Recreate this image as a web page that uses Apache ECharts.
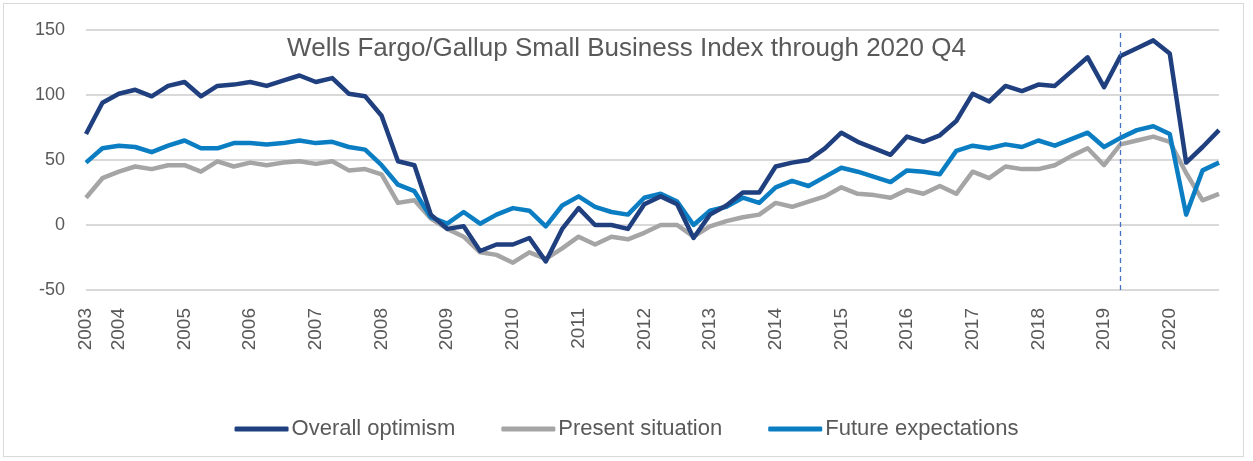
<!DOCTYPE html>
<html>
<head>
<meta charset="utf-8">
<script src="https://cdn.jsdelivr.net/npm/echarts@6/dist/echarts.min.js"></script>
<style>
html,body{margin:0;padding:0;background:#fff;}
#frame{position:absolute;left:3px;top:3px;width:1241px;height:454px;border:1px solid #d9d9d9;box-sizing:border-box;}
#chart{position:absolute;left:0;top:0;width:1253px;height:461px;}
</style>
</head>
<body>
<div id="frame"></div>
<div id="chart"></div>
<script>
const quarters = [
 "2003 Q3","2003 Q4",
 "2004 Q1","2004 Q2","2004 Q3","2004 Q4",
 "2005 Q1","2005 Q2","2005 Q3","2005 Q4",
 "2006 Q1","2006 Q2","2006 Q3","2006 Q4",
 "2007 Q1","2007 Q2","2007 Q3","2007 Q4",
 "2008 Q1","2008 Q2","2008 Q3","2008 Q4",
 "2009 Q1","2009 Q2","2009 Q3","2009 Q4",
 "2010 Q1","2010 Q2","2010 Q3","2010 Q4",
 "2011 Q1","2011 Q2","2011 Q3","2011 Q4",
 "2012 Q1","2012 Q2","2012 Q3","2012 Q4",
 "2013 Q1","2013 Q2","2013 Q3","2013 Q4",
 "2014 Q1","2014 Q2","2014 Q3","2014 Q4",
 "2015 Q1","2015 Q2","2015 Q3","2015 Q4",
 "2016 Q1","2016 Q2","2016 Q3","2016 Q4",
 "2017 Q1","2017 Q2","2017 Q3","2017 Q4",
 "2018 Q1","2018 Q2","2018 Q3","2018 Q4",
 "2019 Q1","2019 Q2","2019 Q3","2019 Q4",
 "2020 Q1","2020 Q2","2020 Q3","2020 Q4"
];
const overallOptimism = [
 70,94,
 101,104,99,107,
 110,99,107,108,
 110,107,111,115,
 110,113,101,99,
 84,49,46,8,
 -3,-1,-20,-15,
 -15,-10,-28,-3,
 13,0,0,-3,
 16,22,16,-10,
 8,15,25,25,
 45,48,50,59,
 71,64,59,54,
 68,64,69,80,
 101,95,107,103,
 108,107,118,129,
 106,130,136,142,
 132,48,60,73
];
const presentSituation = [
 21,36,
 41,45,43,46,
 46,41,49,45,
 48,46,48,49,
 47,49,42,43,
 39,17,19,5,
 -3,-9,-21,-23,
 -29,-21,-26,-18,
 -9,-15,-9,-11,
 -6,0,0,-9,
 -1,3,6,8,
 17,14,18,22,
 29,24,23,21,
 27,24,30,24,
 41,36,45,43,
 43,46,53,59,
 46,62,65,68,
 64,40,19,24
];
const futureExpectations = [
 48,59,
 61,60,56,61,
 65,59,59,63,
 63,62,63,65,
 63,64,60,58,
 46,31,26,6,
 1,10,1,8,
 13,11,-1,15,
 22,14,10,8,
 21,24,18,0,
 11,14,21,17,
 29,34,30,37,
 44,41,37,33,
 42,41,39,57,
 61,59,62,60,
 65,61,66,71,
 60,67,73,76,
 70,8,42,48
];
const seriesNames = ["Overall optimism","Present situation","Future expectations"];
const titleText = "Wells Fargo/Gallup Small Business Index through 2020 Q4";
const markerQuarter = "2019 Q2";

const textColor = "#595959";
const chart = echarts.init(document.getElementById('chart'), null, {renderer:'canvas'});
const showLabel = (idx, val) => idx === 0 || val.endsWith("Q1");
chart.setOption({
  animation:false,
  backgroundColor:'transparent',
  title:{
    text:titleText, left:'center', top:31,
    textStyle:{fontFamily:'Liberation Sans', fontSize:26, fontWeight:'normal', color:textColor}
  },
  legend:{
    bottom:16, left:'center', itemGap:46, itemWidth:54, itemHeight:5, icon:'roundRect',
    textStyle:{fontFamily:'Liberation Sans', fontSize:22, color:textColor, padding:[0,0,0,-2]},
    data:seriesNames
  },
  grid:{left:86, right:34, top:30, bottom:171, containLabel:false},
  xAxis:{
    type:'category', boundaryGap:false, data:quarters,
    axisLine:{show:false}, axisTick:{show:false},
    axisLabel:{
      interval:showLabel, rotate:90, margin:18,
      formatter:(v)=>v.slice(0,4),
      fontFamily:'Liberation Sans', fontSize:19, color:textColor
    },
    splitLine:{show:false}
  },
  yAxis:{
    type:'value', min:-50, max:150, interval:50,
    axisLine:{show:false}, axisTick:{show:false},
    axisLabel:{fontFamily:'Liberation Sans', fontSize:18, color:textColor, margin:21},
    splitLine:{lineStyle:{color:'#d9d9d9', width:2}}
  },
  series:[
    {name:seriesNames[0], type:'line', data:overallOptimism, showSymbol:false, symbol:'none',
     lineStyle:{color:'#1f3f7f', width:4.5, join:'round'}, itemStyle:{color:'#1f3f7f'}, z:4,
     markLine:{silent:true, symbol:'none', label:{show:false},
       lineStyle:{color:'#4472c4', type:[5,4], width:1.3},
       data:[{xAxis:markerQuarter}]}},
    {name:seriesNames[1], type:'line', data:presentSituation, showSymbol:false, symbol:'none',
     lineStyle:{color:'#a5a5a5', width:4.5, join:'round'}, itemStyle:{color:'#a5a5a5'}, z:2},
    {name:seriesNames[2], type:'line', data:futureExpectations, showSymbol:false, symbol:'none',
     lineStyle:{color:'#0b7ec3', width:4.5, join:'round'}, itemStyle:{color:'#0b7ec3'}, z:3}
  ]
});
</script>
</body>
</html>
